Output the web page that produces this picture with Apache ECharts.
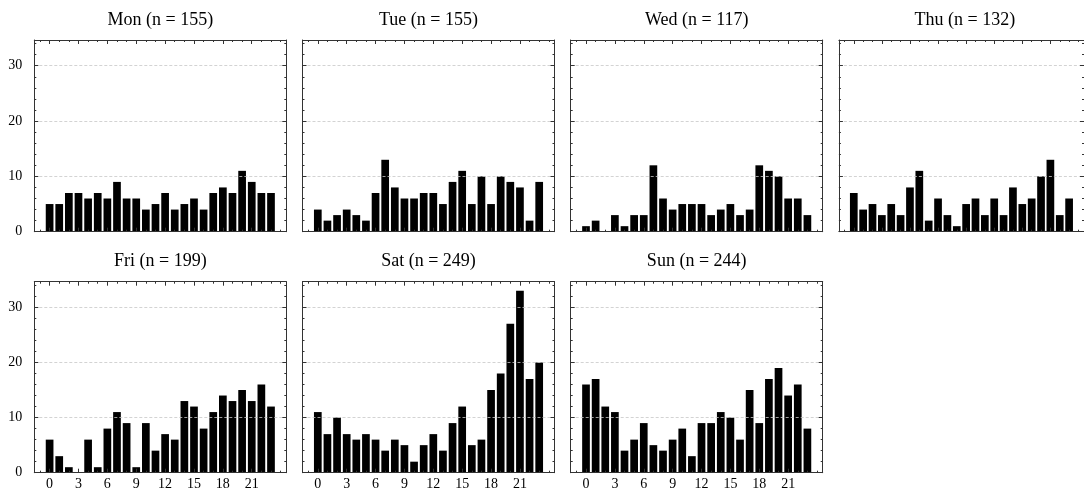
<!DOCTYPE html>
<html>
<head>
<meta charset="utf-8">
<script src="https://cdn.jsdelivr.net/npm/echarts@6/dist/echarts.min.js"></script>
<style>
html,body{margin:0;padding:0;background:#fff;}
#chart{width:1084px;height:492px;}
</style>
</head>
<body>
<div id="chart"></div>
<script>
// ---- data ----
const days = ['Mon', 'Tue', 'Wed', 'Thu', 'Fri', 'Sat', 'Sun'];
const hours = [0,1,2,3,4,5,6,7,8,9,10,11,12,13,14,15,16,17,18,19,20,21,22,23];
const mon = [5,5,7,7,6,7,6,9,6,6,4,5,7,4,5,6,4,7,8,7,11,9,7,7];
const tue = [4,2,3,4,3,2,7,13,8,6,6,7,7,5,9,11,5,10,5,10,9,8,2,9];
const wed = [1,2,0,3,1,3,3,12,6,4,5,5,5,3,4,5,3,4,12,11,10,6,6,3];
const thu = [7,4,5,3,5,3,8,11,2,6,3,1,5,6,3,6,3,8,5,6,10,13,3,6];
const fri = [6,3,1,0,6,1,8,11,9,1,9,4,7,6,13,12,8,11,14,13,15,13,16,12];
const sat = [11,7,10,7,6,7,6,4,6,5,2,5,7,4,9,12,5,6,15,18,27,33,17,20];
const sun = [16,17,12,11,4,6,9,5,4,6,8,3,9,9,11,10,6,15,9,17,19,14,16,8];
const xTickLabels = [0,3,6,9,12,15,18,21];
const xMinorTicks = [-1,0,1,2,3,4,5,6,7,8,9,10,11,12,13,14,15,16,17,18,19,20,21,22,23,24];
const yTickLabels = [0,10,20,30];
const yMinorTicks = [2,4,6,8,12,14,16,18,22,24,26,28,32,34];
const dayData = [mon, tue, wed, thu, fri, sat, sun];

// ---- layout ----
const X_MIN = -1.59, X_MAX = 24.59, Y_MAX = 34.65;
const LEFT0 = 34.3, STEP = 268.2, W = 252;
const ROWS = [{top: 40, h: 191.7}, {top: 281.7, h: 191}];
const PANELS = [[0,0],[0,1],[0,2],[0,3],[1,0],[1,1],[1,2]];
const FONT = '"Liberation Serif", "DejaVu Serif", serif';
const FRAME = '#333';

const grids = [], xAxes = [], yAxes = [], series = [], graphics = [];

PANELS.forEach(([r, c], i) => {
  const left = LEFT0 + c * STEP;
  const top = ROWS[r].top, h = ROWS[r].h;
  grids.push({left: left, top: top, width: W, height: h, containLabel: false});
  const showX = r === 1;
  const showY = c === 0;
  const baseX = {type: 'value', gridIndex: i, min: X_MIN, max: X_MAX, splitLine: {show: false}};
  const baseY = {type: 'value', gridIndex: i, min: 0, max: Y_MAX, interval: 10};
  // bottom major
  xAxes.push(Object.assign({}, baseX, {
    position: 'bottom', z: 5,
    axisLine: {show: true, onZero: false, lineStyle: {color: FRAME, width: 1}},
    axisTick: {show: true, inside: true, length: 4, customValues: xTickLabels, lineStyle: {color: FRAME}},
    axisLabel: {show: showX, customValues: xTickLabels, margin: 5, color: '#000', fontFamily: FONT, fontSize: 14}
  }));
  // bottom minor
  xAxes.push(Object.assign({}, baseX, {
    position: 'bottom', z: 5,
    axisLine: {show: false, onZero: false},
    axisTick: {show: true, inside: true, length: 2, customValues: xMinorTicks, lineStyle: {color: FRAME}},
    axisLabel: {show: false}
  }));
  // top major
  xAxes.push(Object.assign({}, baseX, {
    position: 'top', z: 5,
    axisLine: {show: true, onZero: false, lineStyle: {color: FRAME, width: 1}},
    axisTick: {show: true, inside: true, length: 4, customValues: xTickLabels, lineStyle: {color: FRAME}},
    axisLabel: {show: false}
  }));
  // top minor
  xAxes.push(Object.assign({}, baseX, {
    position: 'top', z: 5,
    axisLine: {show: false, onZero: false},
    axisTick: {show: true, inside: true, length: 2, customValues: xMinorTicks, lineStyle: {color: FRAME}},
    axisLabel: {show: false}
  }));
  // left major
  yAxes.push(Object.assign({}, baseY, {
    position: 'left', z: 5,
    axisLine: {show: true, onZero: false, lineStyle: {color: FRAME, width: 1}},
    axisTick: {show: true, inside: true, length: 4, customValues: yTickLabels, lineStyle: {color: FRAME}},
    axisLabel: {show: showY, customValues: yTickLabels, margin: 12, color: '#000', fontFamily: FONT, fontSize: 14},
    splitLine: {show: true, lineStyle: {color: '#c8c8c8', width: 0.8, type: [3, 2]}}
  }));
  // left minor
  yAxes.push(Object.assign({}, baseY, {
    position: 'left', z: 5,
    axisLine: {show: false, onZero: false},
    axisTick: {show: true, inside: true, length: 2, customValues: yMinorTicks, lineStyle: {color: FRAME}},
    axisLabel: {show: false}, splitLine: {show: false}
  }));
  // right major
  yAxes.push(Object.assign({}, baseY, {
    position: 'right', z: 5,
    axisLine: {show: true, onZero: false, lineStyle: {color: FRAME, width: 1}},
    axisTick: {show: true, inside: true, length: 4, customValues: yTickLabels, lineStyle: {color: FRAME}},
    axisLabel: {show: false}, splitLine: {show: false}
  }));
  // right minor
  yAxes.push(Object.assign({}, baseY, {
    position: 'right', z: 5,
    axisLine: {show: false, onZero: false},
    axisTick: {show: true, inside: true, length: 2, customValues: yMinorTicks, lineStyle: {color: FRAME}},
    axisLabel: {show: false}, splitLine: {show: false}
  }));

  const vals = dayData[i];
  const n = vals.reduce((a, b) => a + b, 0);
  series.push({
    type: 'bar', name: days[i],
    xAxisIndex: 4 * i, yAxisIndex: 4 * i,
    data: hours.map((hh, k) => [hh, vals[k]]),
    barWidth: W / (X_MAX - X_MIN) * 0.8,
    itemStyle: {color: '#000'},
    silent: true
  });
  graphics.push({
    type: 'text',
    style: {
      text: days[i] + ' (n = ' + n + ')',
      x: left + W / 2, y: top - 20,
      align: 'center', verticalAlign: 'middle',
      fill: '#000', font: '18px ' + FONT
    }
  });
});

const chart = echarts.init(document.getElementById('chart'), null, {renderer: 'canvas'});
chart.setOption({
  backgroundColor: '#fff',
  animation: false,
  grid: grids,
  xAxis: xAxes,
  yAxis: yAxes,
  series: series,
  graphic: graphics
});
</script>
</body>
</html>
